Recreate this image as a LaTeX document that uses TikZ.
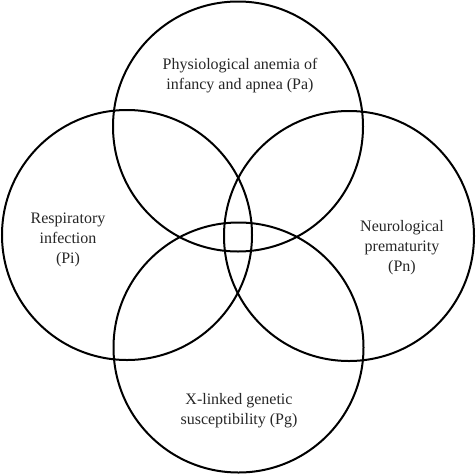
\documentclass[tikz,border=0pt]{standalone}
\usepackage{fontspec}
\setmainfont{Liberation Serif}
\begin{document}
\begin{tikzpicture}[x=1pt,y=-1pt,
  ring/.style={draw=black,line width=2pt,circle,minimum size=250pt,inner sep=0pt},
  lab/.style={align=center,font=\fontsize{16}{20}\selectfont,text=black!85,inner sep=0pt}]
\useasboundingbox (0,0) rectangle (476,474);
\node[ring] (pa) at (238,126.5) {};
\node[ring] (pi) at (127,235) {};
\node[ring] (pn) at (349,236) {};
\node[ring] (pg) at (238.5,347.5) {};
\node[lab] (tpa) at (240,76) {Physiological anemia of\\infancy and apnea (Pa)};
\node[lab] (tpi) at (68,240) {Respiratory\\infection\\(Pi)};
\node[lab] (tpn) at (402,248) {Neurological\\prematurity\\(Pn)};
\node[lab] (tpg) at (239,411) {X-linked genetic\\susceptibility (Pg)};
\end{tikzpicture}
\end{document}
